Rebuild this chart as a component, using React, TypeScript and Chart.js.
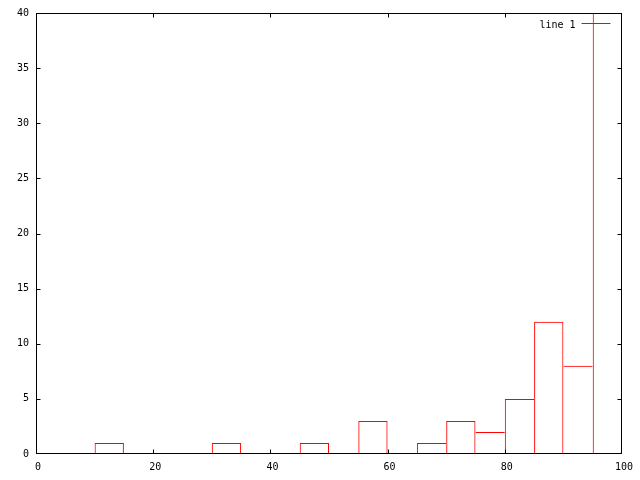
import React, { useEffect, useRef } from "react";
import { Chart, registerables } from "chart.js";

Chart.register(...registerables);

const seriesLabel = "line 1";
const seriesColor = "#ff0000";
// histogram bins (width 5): bin centers and counts
const binWidth = 5;
const binCenters = [12.5, 32.5, 47.5, 57.5, 67.5, 72.5, 77.5, 82.5, 87.5, 92.5, 97.5];
const binCounts = [1, 1, 1, 3, 1, 3, 2, 5, 12, 8, 45];
const xMin = 0;
const xMax = 100;
const xStep = 20;
const yMin = 0;
const yMax = 40;
const yStep = 5;

const FONT = { family: '"DejaVu Sans Mono", monospace', size: 10 };

// draw each shared edge of touching boxes only once (by the taller box)
function edgeWidths(ctx: any) {
  const i = ctx.dataIndex;
  const c = binCounts[i];
  const prevAdj = i > 0 && Math.abs(binCenters[i] - binCenters[i - 1] - binWidth) < 1e-9;
  const nextAdj = i < binCenters.length - 1 && Math.abs(binCenters[i + 1] - binCenters[i] - binWidth) < 1e-9;
  return {
    top: 1,
    bottom: 0,
    left: prevAdj && binCounts[i - 1] >= c ? 0 : 1,
    right: nextAdj && binCounts[i + 1] > c ? 0 : 1,
  };
}

const framePlugin = {
  id: "gnuframe",
  afterDatasetsDraw(chart: any) {
    const { ctx, chartArea: a, scales } = chart;
    const L = Math.round(a.left) + 0.5;
    const R = Math.round(a.right) - 0.5;
    const T = Math.round(a.top) + 0.5;
    const B = Math.round(a.bottom) - 0.5;
    const clamp = (v: number, lo: number, hi: number) => Math.max(lo, Math.min(hi, v));
    ctx.save();
    ctx.strokeStyle = "#000";
    ctx.lineWidth = 1;
    ctx.strokeRect(L, T, R - L, B - T);
    const tl = 4;
    ctx.beginPath();
    scales.x.ticks.forEach((t: any) => {
      const px = clamp(Math.round(scales.x.getPixelForValue(t.value)) + 0.5, L, R);
      ctx.moveTo(px, B);
      ctx.lineTo(px, B - tl);
      ctx.moveTo(px, T);
      ctx.lineTo(px, T + tl);
    });
    scales.y.ticks.forEach((t: any) => {
      const py = clamp(Math.round(scales.y.getPixelForValue(t.value)) + 0.5, T, B);
      ctx.moveTo(L, py);
      ctx.lineTo(L + tl, py);
      ctx.moveTo(R, py);
      ctx.lineTo(R - tl, py);
    });
    ctx.stroke();

    // key (legend) in the top right corner
    const ds = chart.data.datasets[0];
    ctx.font = `${FONT.size}px ${FONT.family}`;
    ctx.fillStyle = "#000";
    ctx.textAlign = "right";
    ctx.textBaseline = "alphabetic";
    ctx.fillText(ds.label, R - 46, T + 14.5);
    ctx.strokeStyle = seriesColor;
    ctx.beginPath();
    ctx.moveTo(R - 40, T + 10);
    ctx.lineTo(R - 11, T + 10);
    ctx.stroke();
    ctx.restore();
  },
};

export default function App() {
  const ref = useRef<HTMLCanvasElement>(null);
  useEffect(() => {
    const chart = new Chart(ref.current as HTMLCanvasElement, {
      type: "bar",
      data: {
        datasets: [
          {
            label: seriesLabel,
            data: binCenters.map((x, i) => ({ x, y: binCounts[i] })),
            backgroundColor: "rgba(0,0,0,0)",
            borderColor: seriesColor,
            borderWidth: edgeWidths,
            borderSkipped: "start",
            inflateAmount: 0,
            barPercentage: 1,
            categoryPercentage: 1,
            clip: 0,
          } as any,
        ],
      },
      options: {
        responsive: false,
        animation: false,
        devicePixelRatio: 1,
        layout: { padding: { top: 11, right: 18, left: 0, bottom: 0 } },
        plugins: { legend: { display: false }, tooltip: { enabled: false } },
        scales: {
          x: {
            type: "linear",
            min: xMin,
            max: xMax,
            offset: false,
            grid: { display: false, drawTicks: false },
            border: { display: false },
            ticks: { stepSize: xStep, padding: 7, labelOffset: 2, color: "#000", font: FONT, maxRotation: 0 },
            afterFit(s: any) {
              s.height = 26;
            },
          },
          y: {
            type: "linear",
            min: yMin,
            max: yMax,
            grid: { display: false, drawTicks: false },
            border: { display: false },
            ticks: { stepSize: yStep, padding: 7, color: "#000", font: FONT },
            afterFit(s: any) {
              s.width = 36;
            },
          },
        },
      } as any,
      plugins: [framePlugin],
    });
    return () => chart.destroy();
  }, []);
  return (
    <div style={{ position: "fixed", left: 0, top: 0, width: 640, height: 480, background: "#fff" }}>
      <canvas ref={ref} width={640} height={480} style={{ display: "block" }} />
    </div>
  );
}
